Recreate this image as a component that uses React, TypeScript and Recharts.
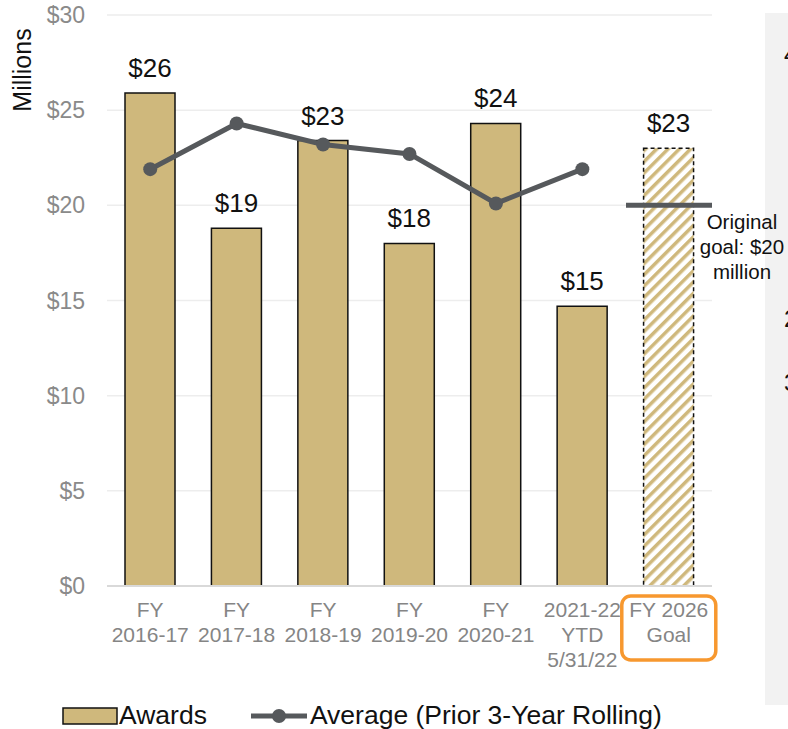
import {
  ComposedChart,
  Bar,
  Line,
  Cell,
  XAxis,
  YAxis,
  CartesianGrid,
  LabelList,
  ReferenceLine,
} from "recharts";

const FONT = "'Liberation Sans', Arial, Helvetica, sans-serif";

const categories = [
  "FY\n2016-17",
  "FY\n2017-18",
  "FY\n2018-19",
  "FY\n2019-20",
  "FY\n2020-21",
  "2021-22\nYTD\n5/31/22",
  "FY 2026\nGoal",
];
const awards = [25.9, 18.8, 23.4, 18.0, 24.3, 14.7, 23.0];
const rollingAvg = [21.9, 24.3, 23.2, 22.7, 20.1, 21.9, null];
const yTicks = [0, 5, 10, 15, 20, 25, 30];
const originalGoal = 20;
const goalLabel = ["Original", "goal: $20", "million"];

const GOLD = "#CFB87C";
const LINE_GRAY = "#56595C";

const data = categories.map((cat, i) => ({
  cat,
  awards: awards[i],
  avg: rollingAvg[i],
}));

function XTick(props: any) {
  const { x, y, payload } = props;
  const lines: string[] = String(payload.value).split("\n");
  const isGoal = payload.value === categories[categories.length - 1];
  return (
    <g>
      {isGoal && (
        <rect
          x={x - 47}
          y={y + 10}
          width={94}
          height={64}
          rx={9}
          fill="none"
          stroke="#F7982F"
          strokeWidth={3.5}
        />
      )}
      {lines.map((ln, i) => (
        <text
          key={i}
          x={x}
          y={y + 31 + i * 25}
          textAnchor="middle"
          fontSize={21}
          fontFamily={FONT}
          fill="#858585"
        >
          {ln}
        </text>
      ))}
    </g>
  );
}

function MillionsLabel() {
  return (
    <text
      x={31}
      y={70}
      transform="rotate(-90 31 70)"
      textAnchor="middle"
      fontSize={25}
      fontFamily={FONT}
      fill="#111"
    >
      Millions
    </text>
  );
}

function GoalLine(props: any) {
  const { x2, y1 } = props;
  const band = 86;
  return (
    <g>
      <line
        x1={x2 - band}
        x2={x2}
        y1={y1}
        y2={y1}
        stroke={LINE_GRAY}
        strokeWidth={5}
      />
      {goalLabel.map((t, i) => (
        <text
          key={i}
          x={x2 + 30}
          y={y1 + 24 + i * 25}
          textAnchor="middle"
          fontSize={20.5}
          fontFamily={FONT}
          fill="#111"
        >
          {t}
        </text>
      ))}
    </g>
  );
}

export default function App() {
  return (
    <div
      style={{
        position: "absolute",
        left: 0,
        top: 0,
        width: 788,
        height: 729,
        background: "#fff",
        fontFamily: FONT,
        overflow: "hidden",
      }}
    >
      {/* cropped neighbouring panel */}
      <div
        style={{
          position: "absolute",
          left: 765,
          top: 13,
          width: 40,
          height: 692,
          background: "#F2F2F2",
        }}
      >
        <span style={{ position: "absolute", left: 19, top: 28, fontSize: 24, color: "#111" }}>4</span>
        <span style={{ position: "absolute", left: 19, top: 292, fontSize: 24, color: "#111" }}>2</span>
        <span style={{ position: "absolute", left: 19, top: 356, fontSize: 24, color: "#111" }}>3</span>
      </div>

      <div style={{ position: "absolute", left: 0, top: 0 }}>
        <ComposedChart
          width={788}
          height={729}
          data={data}
          margin={{ top: 15, right: 76, bottom: 113, left: 47 }}
          barCategoryGap={0}
        >
          <defs>
            <pattern
              id="hatch"
              width={8}
              height={8}
              patternUnits="userSpaceOnUse"
              patternTransform="rotate(45)"
            >
              <rect x={0} y={0} width={8} height={8} fill="#fff" />
              <rect x={0} y={0} width={3.5} height={8} fill={GOLD} />
            </pattern>
          </defs>
          <CartesianGrid
            vertical={false}
            stroke="#EDEDED"
            strokeWidth={1.5}
          />
          <XAxis
            dataKey="cat"
            height={30}
            interval={0}
            tickLine={false}
            tickSize={0}
            tickMargin={0}
            axisLine={{ stroke: "#D9D9D9", strokeWidth: 2 }}
            tick={<XTick />}
          />
          <YAxis
            width={60}
            domain={[0, 30]}
            ticks={yTicks}
            axisLine={false}
            tickLine={false}
            tickSize={0}
            tickMargin={22}
            tickFormatter={(v) => `$${v}`}
            tick={{ fontSize: 23, fontFamily: FONT, fill: "#8A8A8A" }}
            label={<MillionsLabel />}
          />
          <Bar
            dataKey="awards"
            barSize={50}
            fill={GOLD}
            stroke="#111"
            strokeWidth={1.5}
            isAnimationActive={false}
          >
            {data.map((d, i) =>
              i === data.length - 1 ? (
                <Cell
                  key={i}
                  fill="url(#hatch)"
                  stroke="#111"
                  strokeDasharray="4 3"
                />
              ) : (
                <Cell key={i} fill={GOLD} />
              )
            )}
            <LabelList
              dataKey="awards"
              position="top"
              offset={16}
              fontSize={26}
              fontFamily={FONT}
              fill="#111"
              formatter={(v: any) => `$${Math.round(v)}`}
            />
          </Bar>
          <ReferenceLine y={originalGoal} shape={<GoalLine />} />
          <Line
            dataKey="avg"
            stroke={LINE_GRAY}
            strokeWidth={5}
            dot={{ r: 7, fill: LINE_GRAY, stroke: LINE_GRAY, strokeWidth: 0 }}
            activeDot={false}
            connectNulls={false}
            isAnimationActive={false}
          />
        </ComposedChart>
      </div>

      {/* legend */}
      <div
        style={{
          position: "absolute",
          left: 62,
          top: 700,
          display: "flex",
          alignItems: "center",
          fontSize: 26.5,
          color: "#111",
          whiteSpace: "nowrap",
        }}
      >
        <svg width={57} height={20}>
          <rect x={1} y={2} width={54} height={16} fill={GOLD} stroke="#111" strokeWidth={1.5} />
        </svg>
        <span>Awards</span>
        <svg width={59} height={20} style={{ marginLeft: 44 }}>
          <line x1={0} x2={56} y1={10} y2={10} stroke={LINE_GRAY} strokeWidth={5} />
          <circle cx={28} cy={10} r={7} fill={LINE_GRAY} />
        </svg>
        <span>Average (Prior 3-Year Rolling)</span>
      </div>
    </div>
  );
}
